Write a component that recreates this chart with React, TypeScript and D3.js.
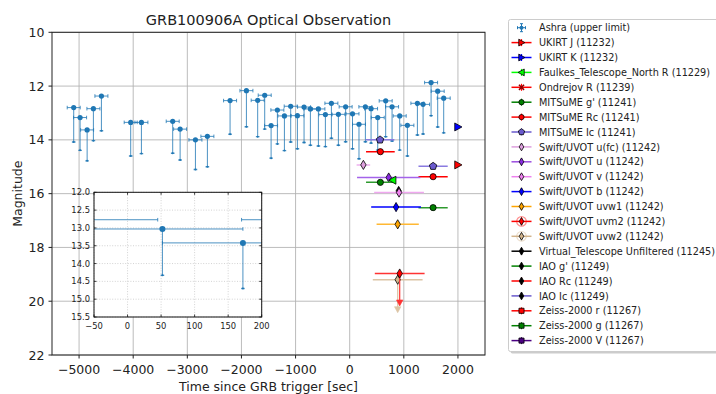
import React from "react";
import * as d3 from "d3";

// ---------- data ----------
const ashraTime = [-5099, -4981, -4851, -4735, -4587, -4046, -3848, -3270, -3133, -2850, -2629, -2210, -1908, -1700, -1570, -1452, -1336, -1206, -1090, -966, -843, -726, -578, -449, -338, -209, -75, 52, 172, 290, 395, 518, 665, 783, 924, 1066, 1251, 1356, 1504, 1626, 1737];
const ashraMag = [12.80, 13.17, 13.63, 12.84, 12.37, 13.35, 13.35, 13.31, 13.60, 14.00, 13.87, 12.54, 12.17, 12.53, 12.34, 13.47, 12.89, 13.11, 12.75, 13.10, 12.78, 12.85, 12.85, 13.06, 12.64, 13.05, 12.77, 13.03, 13.42, 12.77, 12.84, 13.17, 12.55, 12.77, 13.11, 13.46, 12.64, 12.68, 11.87, 12.19, 12.45];
const ashraLimit = [14.08, 14.39, 14.78, 14.03, 13.66, 14.60, 14.51, 14.50, 14.75, 15.10, 15.00, 13.79, 13.51, 13.88, 13.60, 14.68, 14.15, 14.40, 14.08, 14.33, 14.10, 14.20, 14.23, 14.25, 13.94, 14.20, 14.07, 14.33, 14.70, 14.07, 14.12, 14.38, 13.88, 14.04, 14.38, 14.60, 13.82, 13.78, 13.10, 13.52, 13.74];
const ashraHalfExposure = 120;

const ukirtJTime = [2000];
const ukirtJMag = [14.93];
const ukirtKTime = [2000];
const ukirtKMag = [13.52];
const faulkesTime = [795];
const faulkesMag = [15.5];
const mitsumeGTime = [567, 1541];
const mitsumeGMag = [15.58, 16.52];
const mitsumeGXErr = [265, 270];
const mitsumeRTime = [567, 1541];
const mitsumeRMag = [14.44, 15.37];
const mitsumeRXErr = [265, 270];
const mitsumeITime = [561, 1541];
const mitsumeIMag = [14.0, 14.98];
const mitsumeIXErr = [265, 270];
const uvotUfcTime = [253];
const uvotUfcMag = [14.93];
const uvotUfcXErr = [125];
const uvotUTime = [721];
const uvotUMag = [15.4];
const uvotUXErr = [585];
const uvotVTime = [912];
const uvotVMag = [15.96];
const uvotVXErr = [460];
const uvotBTime = [857];
const uvotBMag = [16.5];
const uvotBXErr = [460];
const uvotW1Time = [887];
const uvotW1Mag = [17.14];
const uvotW1XErr = [390];
const uvotM2Time = [924];
const uvotM2Mag = [18.97];
const uvotM2XErr = [460];
const uvotM2Limit = [20.14];
const uvotW2Time = [887];
const uvotW2Mag = [19.2];
const uvotW2XErr = [460];
const uvotW2Limit = [20.39];
const vtTime = [905];
const vtMag = [15.9];

const xTicks = [-5000, -4000, -3000, -2000, -1000, 0, 1000, 2000];
const yTicks = [10, 12, 14, 16, 18, 20, 22];
const insetXTicks = [-50, 0, 50, 100, 150, 200];
const insetYTicks = [12.0, 12.5, 13.0, 13.5, 14.0, 14.5, 15.0, 15.5];

const legendLabels = [
  "Ashra (upper limit)",
  "UKIRT J (11232)",
  "UKIRT K (11232)",
  "Faulkes_Telescope_North R (11229)",
  "Ondrejov R (11239)",
  "MITSuME g' (11241)",
  "MITSuME Rc (11241)",
  "MITSuME Ic (11241)",
  "Swift/UVOT u(fc) (11242)",
  "Swift/UVOT u (11242)",
  "Swift/UVOT v (11242)",
  "Swift/UVOT b (11242)",
  "Swift/UVOT uvw1 (11242)",
  "Swift/UVOT uvm2 (11242)",
  "Swift/UVOT uvw2 (11242)",
  "Virtual_Telescope Unfiltered (11245)",
  "IAO g' (11249)",
  "IAO Rc (11249)",
  "IAO Ic (11249)",
  "Zeiss-2000 r (11267)",
  "Zeiss-2000 g (11267)",
  "Zeiss-2000 V (11267)",
];

// ---------- styles ----------
const FONT = "DejaVu Sans, sans-serif";
const BLUE = "#1f77b4";
const legendStyles = [
  { color: BLUE, marker: "ashra", fill: BLUE },
  { color: "#ff0000", marker: ">", fill: "#ff0000" },
  { color: "#0000ff", marker: ">", fill: "#0000ff" },
  { color: "#00ff00", marker: "<", fill: "#00ff00" },
  { color: "#ff0000", marker: "x", fill: "#8b0000" },
  { color: "#008000", marker: "o", fill: "#008000" },
  { color: "#ff0000", marker: "o", fill: "#ff0000" },
  { color: "#6a5acd", marker: "p", fill: "#6a5acd" },
  { color: "#dda0dd", marker: "d", fill: "#dda0dd" },
  { color: "#9b4de0", marker: "d", fill: "#8a2be2" },
  { color: "#ee82ee", marker: "d", fill: "#ee82ee" },
  { color: "#0000ff", marker: "d", fill: "#0000ff" },
  { color: "#ffa500", marker: "d", fill: "#ffa500" },
  { color: "#ff0000", marker: "dlim", fill: "#ff0000" },
  { color: "#d2b48c", marker: "dlim", fill: "#d2b48c" },
  { color: "#000000", marker: "d", fill: "#000000" },
  { color: "#008000", marker: "d", fill: "#000000" },
  { color: "#ff0000", marker: "d", fill: "#000000" },
  { color: "#6a5acd", marker: "d", fill: "#000000" },
  { color: "#ff0000", marker: "s", fill: "#ff0000" },
  { color: "#008000", marker: "s", fill: "#008000" },
  { color: "#4b0082", marker: "s", fill: "#4b0082" },
];

type Series = {
  t: number[];
  m: number[];
  xe?: number[];
  lim?: number[];
  color: string;
  marker: string;
  fill: string;
};

const mainSeries: Series[] = [
  { t: vtTime, m: vtMag, color: "#000000", marker: "d", fill: "#000000" },
  { t: mitsumeITime, m: mitsumeIMag, xe: mitsumeIXErr, color: "#8a7be0", marker: "p", fill: "#6a5acd" },
  { t: mitsumeRTime, m: mitsumeRMag, xe: mitsumeRXErr, color: "#ff0000", marker: "o", fill: "#ff0000" },
  { t: uvotUfcTime, m: uvotUfcMag, xe: uvotUfcXErr, color: "#eeb0ee", marker: "d", fill: "#dda0dd" },
  { t: uvotUTime, m: uvotUMag, xe: uvotUXErr, color: "#a463ea", marker: "d", fill: "#8a2be2" },
  { t: mitsumeGTime, m: mitsumeGMag, xe: mitsumeGXErr, color: "#2e9a2e", marker: "o", fill: "#008000" },
  { t: faulkesTime, m: faulkesMag, color: "#00ff00", marker: "<", fill: "#00ff00" },
  { t: uvotVTime, m: uvotVMag, xe: uvotVXErr, color: "#f0a8f0", marker: "d", fill: "#ee82ee" },
  { t: uvotBTime, m: uvotBMag, xe: uvotBXErr, color: "#0000ff", marker: "d", fill: "#0000ff" },
  { t: uvotW1Time, m: uvotW1Mag, xe: uvotW1XErr, color: "#ffb833", marker: "d", fill: "#ffa500" },
  { t: uvotW2Time, m: uvotW2Mag, xe: uvotW2XErr, lim: uvotW2Limit, color: "#dcc4a4", marker: "d", fill: "#d2b48c" },
  { t: uvotM2Time, m: uvotM2Mag, xe: uvotM2XErr, lim: uvotM2Limit, color: "#ff3333", marker: "d", fill: "#ff0000" },
  { t: ukirtKTime, m: ukirtKMag, color: "#0000ff", marker: ">", fill: "#0000ff" },
  { t: ukirtJTime, m: ukirtJMag, color: "#ff0000", marker: ">", fill: "#ff0000" },
];

// ---------- geometry ----------
const W = 716;
const H = 394;
const PL = 52, PR = 485, PT = 32.3, PB = 355;
const x = d3.scaleLinear().domain([-5500, 2500]).range([PL, PR]);
const y = d3.scaleLinear().domain([10, 22]).range([PT, PB]);
const IL = 94, IR = 261.7, IT = 192.3, IB = 317;
const xi = d3.scaleLinear().domain([-50, 200]).range([IL, IR]);
const yi = d3.scaleLinear().domain([12, 15.5]).range([IT, IB]);

function markerPath(shape: string, k = 1): string {
  switch (shape) {
    case "o":
      return d3.symbol(d3.symbolCircle, 30 * k * k)() as string;
    case "s":
      return `M${-3 * k},${-3 * k}L${3 * k},${-3 * k}L${3 * k},${3 * k}L${-3 * k},${3 * k}Z`;
    case "d":
    case "dlim":
      return `M0,${-4.6 * k}L${2.7 * k},0L0,${4.6 * k}L${-2.7 * k},0Z`;
    case ">":
      return `M${4 * k},0L${-3.2 * k},${-4 * k}L${-3.2 * k},${4 * k}Z`;
    case "<":
      return `M${-4 * k},0L${3.2 * k},${-4 * k}L${3.2 * k},${4 * k}Z`;
    case "x":
      return `M${-3 * k},${-3 * k}L${3 * k},${3 * k}M${-3 * k},${3 * k}L${3 * k},${-3 * k}`;
    case "p": {
      const pts = d3.range(5).map((i) => {
        const a = -Math.PI / 2 + (i * 2 * Math.PI) / 5;
        return [3.9 * k * Math.cos(a), 3.9 * k * Math.sin(a)];
      });
      return "M" + pts.map((p) => p.join(",")).join("L") + "Z";
    }
    default:
      return d3.symbol(d3.symbolCircle, 30)() as string;
  }
}

function Marker({ shape, cx, cy, fill, k = 1 }: { shape: string; cx: number; cy: number; fill: string; k?: number }) {
  if (shape === "x") {
    return <path d={markerPath(shape, k)} transform={`translate(${cx},${cy})`} stroke={fill} strokeWidth={1.5} fill="none" />;
  }
  return <path d={markerPath(shape, k)} transform={`translate(${cx},${cy})`} fill={fill} stroke="#000" strokeWidth={0.8} />;
}

function AshraPoints({ xs, ys, r }: { xs: d3.ScaleLinear<number, number>; ys: d3.ScaleLinear<number, number>; r: number }) {
  return (
    <g>
      {ashraTime.map((t, i) => {
        const cx = xs(t);
        const cy = ys(ashraMag[i]);
        const ly = ys(ashraLimit[i]);
        const x0 = xs(t - ashraHalfExposure);
        const x1 = xs(t + ashraHalfExposure);
        return (
          <g key={i} stroke={BLUE} strokeWidth={1} strokeOpacity={0.8}>
            <line x1={cx} x2={cx} y1={cy} y2={ly} />
            <line x1={cx - 1.8} x2={cx + 1.8} y1={ly} y2={ly} strokeWidth={1.4} />
            <circle cx={cx} cy={ly} r={1} fill={BLUE} stroke="none" />
            <line x1={x0} x2={x1} y1={cy} y2={cy} />
            <line x1={x0} x2={x0} y1={cy - 1.8} y2={cy + 1.8} />
            <line x1={x1} x2={x1} y1={cy - 1.8} y2={cy + 1.8} />
            <circle cx={cx} cy={cy} r={r} fill={BLUE} stroke="none" />
          </g>
        );
      })}
    </g>
  );
}

export default function App() {
  const legendX = 508.5, legendY = 19.5, legendW = 220, legendH = 332;
  const rowY0 = 27.7, rowDy = 14.9;
  return (
    <svg width={W} height={H} style={{ position: "absolute", left: 0, top: 0, background: "#fff" }} fontFamily={FONT}>
      <defs>
        <clipPath id="mainClip">
          <rect x={PL} y={PT} width={PR - PL} height={PB - PT} />
        </clipPath>
        <clipPath id="insetClip">
          <rect x={IL} y={IT} width={IR - IL} height={IB - IT} />
        </clipPath>
      </defs>
      <rect x={0} y={0} width={W} height={H} fill="#fff" />

      {/* main grid */}
      <g stroke="#b0b0b0" strokeWidth={1} strokeOpacity={0.85}>
        {xTicks.map((t) => (
          <line key={"gx" + t} x1={x(t)} x2={x(t)} y1={PT} y2={PB} />
        ))}
        {yTicks.map((v) => (
          <line key={"gy" + v} x1={PL} x2={PR} y1={y(v)} y2={y(v)} />
        ))}
      </g>

      {/* main data */}
      <g clipPath="url(#mainClip)">
        <AshraPoints xs={x} ys={y} r={2.6} />
        {mainSeries.map((s, si) => (
          <g key={si}>
            {s.t.map((t, i) => {
              const cx = x(t);
              const cy = y(s.m[i]);
              const xe = s.xe ? s.xe[i] : 0;
              return (
                <g key={i}>
                  {xe > 0 && (
                    <line x1={x(t - xe)} x2={x(t + xe)} y1={cy} y2={cy} stroke={s.color} strokeWidth={1.5} />
                  )}
                  {s.lim && (
                    <g>
                      <line x1={cx} x2={cx} y1={cy} y2={y(s.lim[i]) - 4} stroke={s.color} strokeWidth={1.2} />
                      <path
                        d={`M${cx - 3.2},${y(s.lim[i]) - 5}L${cx + 3.2},${y(s.lim[i]) - 5}L${cx},${y(s.lim[i]) + 1}Z`}
                        fill={s.color}
                        stroke={s.color}
                        strokeWidth={0.6}
                      />
                    </g>
                  )}
                  <Marker shape={s.marker} cx={cx} cy={cy} fill={s.fill} />
                </g>
              );
            })}
          </g>
        ))}
      </g>

      {/* main spines */}
      <rect x={PL} y={PT} width={PR - PL} height={PB - PT} fill="none" stroke="#222" strokeWidth={1} />

      {/* main ticks */}
      <g stroke="#222" strokeWidth={1}>
        {xTicks.map((t) => (
          <line key={"tx" + t} x1={x(t)} x2={x(t)} y1={PB} y2={PB + 3.5} />
        ))}
        {yTicks.map((v) => (
          <line key={"ty" + v} x1={PL - 3.5} x2={PL} y1={y(v)} y2={y(v)} />
        ))}
      </g>
      <g fontSize={12.5} fill="#222">
        {xTicks.map((t) => (
          <text key={"lx" + t} x={x(t)} y={373.5} textAnchor="middle">
            {String(t).replace("-", "\u2212")}
          </text>
        ))}
        {yTicks.map((v) => (
          <text key={"ly" + v} x={44.5} y={y(v) + 4.5} textAnchor="end">
            {v}
          </text>
        ))}
      </g>
      <text x={(PL + PR) / 2} y={391} textAnchor="middle" fontSize={12.5} fill="#222">
        Time since GRB trigger [sec]
      </text>
      <text transform={`translate(21.5,${(PT + PB) / 2}) rotate(-90)`} textAnchor="middle" fontSize={12.5} fill="#222">
        Magnitude
      </text>
      <text x={(PL + PR) / 2} y={24.5} textAnchor="middle" fontSize={14.5} fill="#222">
        GRB100906A Optical Observation
      </text>

      {/* inset */}
      <rect x={IL} y={IT} width={IR - IL} height={IB - IT} fill="#fff" />
      <g stroke="#c8c8c8" strokeWidth={0.8} strokeDasharray="1,1.6">
        {insetXTicks.map((t) => (
          <line key={"igx" + t} x1={xi(t)} x2={xi(t)} y1={IT} y2={IB} />
        ))}
        {insetYTicks.map((v) => (
          <line key={"igy" + v} x1={IL} x2={IR} y1={yi(v)} y2={yi(v)} />
        ))}
      </g>
      <g clipPath="url(#insetClip)">
        <AshraPoints xs={xi} ys={yi} r={3} />
      </g>
      <rect x={IL} y={IT} width={IR - IL} height={IB - IT} fill="none" stroke="#111" strokeWidth={1} />
      <g stroke="#111" strokeWidth={0.8}>
        {insetXTicks.map((t) => (
          <g key={"itx" + t}>
            <line x1={xi(t)} x2={xi(t)} y1={IB} y2={IB - 2.5} />
            <line x1={xi(t)} x2={xi(t)} y1={IT} y2={IT + 2.5} />
          </g>
        ))}
        {insetYTicks.map((v) => (
          <g key={"ity" + v}>
            <line x1={IL} x2={IL + 2.5} y1={yi(v)} y2={yi(v)} />
            <line x1={IR} x2={IR - 2.5} y1={yi(v)} y2={yi(v)} />
          </g>
        ))}
      </g>
      <g fontSize={8.4} fill="#222">
        {insetXTicks.map((t) => (
          <text key={"ilx" + t} x={xi(t)} y={328.5} textAnchor="middle">
            {String(t).replace("-", "\u2212")}
          </text>
        ))}
        {insetYTicks.map((v) => (
          <text key={"ily" + v} x={90} y={yi(v) + 3} textAnchor="end">
            {v.toFixed(1)}
          </text>
        ))}
      </g>

      {/* legend */}
      <rect x={legendX + 2} y={legendY + 2} width={legendW} height={legendH} rx={2} fill="#999" fillOpacity={0.5} />
      <rect x={legendX} y={legendY} width={legendW} height={legendH} rx={2} fill="#fff" stroke="#ccc" strokeWidth={1} />
      {legendLabels.map((label, i) => {
        const st = legendStyles[i];
        const cy = rowY0 + i * rowDy;
        const lx0 = 511.5, lx1 = 531.5, mx = 521.5;
        if (st.marker === "ashra") {
          return (
            <g key={i}>
              <g stroke={BLUE} strokeWidth={1}>
                <line x1={mx - 4} x2={mx + 4} y1={cy} y2={cy} />
                <line x1={mx} x2={mx} y1={cy - 4} y2={cy + 4} />
                <line x1={mx - 4} x2={mx - 4} y1={cy - 1.5} y2={cy + 1.5} />
                <line x1={mx + 4} x2={mx + 4} y1={cy - 1.5} y2={cy + 1.5} />
                <line x1={mx - 1.5} x2={mx + 1.5} y1={cy - 4} y2={cy - 4} />
                <line x1={mx - 1.5} x2={mx + 1.5} y1={cy + 4} y2={cy + 4} />
              </g>
              <circle cx={mx} cy={cy} r={2} fill={BLUE} />
              <text x={539} y={cy + 3.6} fontSize={9.7} fill="#222">
                {label}
              </text>
            </g>
          );
        }
        return (
          <g key={i}>
            <line x1={lx0} x2={lx1} y1={cy} y2={cy} stroke={st.color} strokeWidth={1.5} />
            <line x1={mx} x2={mx} y1={cy - 3.5} y2={cy + 3.5} stroke={st.color} strokeWidth={1.2} />
            {st.marker === "dlim" && (
              <g stroke={st.color} strokeWidth={1.2} fill="none">
                <circle cx={mx} cy={cy} r={4.8} strokeOpacity={0.45} />
              </g>
            )}
            <Marker shape={st.marker === "dlim" ? "d" : st.marker} cx={mx} cy={cy} fill={st.fill} k={0.85} />
            <text x={539} y={cy + 3.6} fontSize={9.7} fill="#222">
              {label}
            </text>
          </g>
        );
      })}
    </svg>
  );
}
